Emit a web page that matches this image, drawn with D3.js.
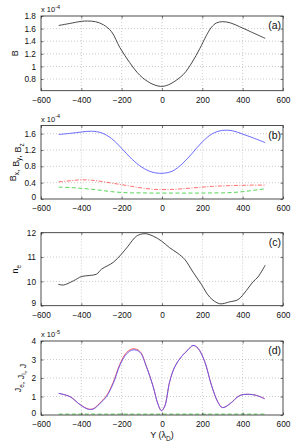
<!DOCTYPE html>
<html>
<head>
<meta charset="utf-8">
<script src="https://cdn.jsdelivr.net/npm/d3@7"></script>
<style>
  body { margin: 0; background: #fff; }
  svg { font-family: "Liberation Sans", Arial, sans-serif; }
</style>
</head>
<body>
<script>
// x ticks shared by all panels
var xTicks = [-600, -400, -200, 0, 200, 400, 600];

// (a) |B|, units of 1e-4
var bX = [-512, -460, -400, -370, -330, -290, -250, -209, -160, -110, -60, -20, 5, 40, 105, 150, 187, 220, 245, 270, 300, 340, 385, 440, 512];
var bY = [1.65, 1.68, 1.715, 1.72, 1.71, 1.66, 1.55, 1.30, 1.06, 0.86, 0.74, 0.69, 0.685, 0.72, 0.87, 1.07, 1.28, 1.49, 1.62, 1.69, 1.71, 1.69, 1.63, 1.55, 1.445];
var bTicks = [0.8, 1, 1.2, 1.4, 1.6, 1.8];

// (b) Bx, By, Bz, units of 1e-4
var bcX = [-512, -450, -400, -350, -300, -250, -200, -150, -100, -50, 0, 50, 100, 150, 200, 250, 300, 350, 400, 450, 512];
var bzY = [1.58, 1.61, 1.64, 1.66, 1.62, 1.48, 1.24, 0.98, 0.78, 0.66, 0.63, 0.68, 0.86, 1.12, 1.40, 1.60, 1.68, 1.67, 1.59, 1.50, 1.38];
var bxY = [0.42, 0.45, 0.47, 0.46, 0.43, 0.39, 0.35, 0.31, 0.27, 0.24, 0.23, 0.235, 0.25, 0.27, 0.29, 0.31, 0.32, 0.33, 0.335, 0.34, 0.34];
var byY = [0.29, 0.28, 0.26, 0.24, 0.21, 0.18, 0.16, 0.15, 0.15, 0.145, 0.145, 0.145, 0.145, 0.145, 0.145, 0.15, 0.15, 0.16, 0.18, 0.21, 0.25];
var b2Ticks = [0, 0.4, 0.8, 1.2, 1.6];

// (c) n_e
var nX = [-514, -489, -440, -399, -360, -324, -300, -242, -201, -168, -126, -85, -44, -3, 38, 79, 113, 154, 195, 237, 286, 336, 377, 418, 451, 476, 512];
var nY = [9.88, 9.85, 10.02, 10.2, 10.24, 10.3, 10.5, 10.78, 11.12, 11.45, 11.86, 11.96, 11.86, 11.66, 11.38, 11.15, 10.9, 10.38, 9.88, 9.35, 9.08, 9.16, 9.25, 9.62, 9.98, 10.18, 10.67];
var nTicks = [9, 10, 11, 12];

// (d) Je, Ji, J, units of 1e-5
var jX = [-512, -456, -407, -366, -341, -300, -275, -242, -209, -176, -143, -110, -77, -44, -19, -3, 13, 38, 63, 96, 129, 154, 179, 212, 245, 278, 300, 336, 385, 427, 468, 509];
var jY = [1.17, 0.99, 0.56, 0.31, 0.32, 0.70, 1.00, 1.70, 2.68, 3.30, 3.52, 3.40, 2.60, 1.53, 0.55, 0.23, 0.45, 1.80, 2.60, 3.15, 3.52, 3.76, 3.60, 2.88, 1.62, 0.68, 0.40, 0.60, 1.05, 1.12, 1.06, 0.88];
var jeY = [1.17, 0.99, 0.57, 0.33, 0.34, 0.74, 1.04, 1.76, 2.74, 3.37, 3.58, 3.44, 2.62, 1.54, 0.56, 0.24, 0.46, 1.80, 2.60, 3.15, 3.52, 3.76, 3.60, 2.88, 1.62, 0.68, 0.40, 0.60, 1.05, 1.12, 1.06, 0.88];
var jiY = [0.05, 0.05, 0.05, 0.05, 0.05, 0.05, 0.05, 0.05, 0.05, 0.05, 0.05, 0.05, 0.05, 0.05, 0.05, 0.05, 0.05, 0.05, 0.05, 0.05, 0.05, 0.05, 0.05, 0.05, 0.05, 0.05, 0.05, 0.05, 0.05, 0.05, 0.05, 0.05];
var jTicks = [0, 1, 2, 3, 4];

var width = 294, height = 443;
var left = 41, right = 283;

var svg = d3.select('body').append('svg').attr('width', width).attr('height', height);

var x = d3.scaleLinear().domain([-600, 600]).range([left, right]);

var panels = [
  { top: 16, bottom: 90.7, domain: [0.615, 1.8], ticks: bTicks, tag: '(a)', exp: '-4',
    ylab: [['B', '']], ylabX: 18,
    series: [{ xs: bX, ys: bY, color: '#333', dash: null }] },
  { top: 125.5, bottom: 199, domain: [0, 1.8], ticks: b2Ticks, tag: '(b)', exp: '-4',
    ylab: [['B', 'x'], [', B', 'y'], [', B', 'z']], ylabX: 16,
    series: [
      { xs: bcX, ys: bzY, color: '#5a5aff', dash: null },
      { xs: bcX, ys: bxY, color: '#ff5a5a', dash: '4,1.5,1,1.5' },
      { xs: bcX, ys: byY, color: '#44d044', dash: '4,2.5' }] },
  { top: 232.7, bottom: 305.7, domain: [9, 12], ticks: nTicks, tag: '(c)', exp: null,
    ylab: [['n', 'e']], ylabX: 18,
    series: [{ xs: nX, ys: nY, color: '#333', dash: null }] },
  { top: 341, bottom: 415, domain: [0, 4], ticks: jTicks, tag: '(d)', exp: '-5',
    ylab: [['J', 'e'], [', J', 'i'], [', J', '']], ylabX: 21,
    series: [
      { xs: jX, ys: jeY, color: '#ff4040', dash: null },
      { xs: jX, ys: jY, color: '#5a5aff', dash: null },
      { xs: jX, ys: jiY, color: '#44d044', dash: '4,2.5' }] }
];

var fmt = function (d) { return String(+d.toFixed(2)); };

panels.forEach(function (p, k) {
  var y = d3.scaleLinear().domain(p.domain).range([p.bottom, p.top]);
  var g = svg.append('g');

  // dotted grid
  g.selectAll('.gx').data(xTicks.slice(1, -1)).enter().append('line')
    .attr('x1', function (d) { return x(d); }).attr('x2', function (d) { return x(d); })
    .attr('y1', p.top).attr('y2', p.bottom)
    .attr('stroke', '#aaa').attr('stroke-width', 0.6).attr('stroke-dasharray', '1,2');
  g.selectAll('.gy').data(p.ticks.filter(function (d) { return d !== p.domain[0] && d !== p.domain[1]; })).enter().append('line')
    .attr('y1', function (d) { return y(d); }).attr('y2', function (d) { return y(d); })
    .attr('x1', left).attr('x2', right)
    .attr('stroke', '#aaa').attr('stroke-width', 0.6).attr('stroke-dasharray', '1,2');

  // series
  p.series.forEach(function (s) {
    var pts = s.xs.map(function (v, i) { return [v, s.ys[i]]; });
    var line = d3.line()
      .x(function (d) { return x(d[0]); })
      .y(function (d) { return y(d[1]); })
      .curve(d3.curveCatmullRom.alpha(0.5));
    g.append('path').attr('d', line(pts))
      .attr('fill', 'none').attr('stroke', s.color).attr('stroke-width', 0.9)
      .attr('stroke-dasharray', s.dash);
  });

  // axes, ticks pointing inward
  var xb = g.append('g').attr('transform', 'translate(0,' + p.bottom + ')')
    .call(d3.axisBottom(x).tickValues(xTicks).tickSizeInner(-2.5).tickSizeOuter(0).tickPadding(6));
  var xt = g.append('g').attr('transform', 'translate(0,' + p.top + ')')
    .call(d3.axisTop(x).tickValues(xTicks).tickSizeInner(-2.5).tickSizeOuter(0).tickFormat(''));
  var yl = g.append('g').attr('transform', 'translate(' + left + ',0)')
    .call(d3.axisLeft(y).tickValues(p.ticks).tickSizeInner(-2.5).tickSizeOuter(0).tickPadding(5).tickFormat(fmt));
  var yr = g.append('g').attr('transform', 'translate(' + right + ',0)')
    .call(d3.axisRight(y).tickValues(p.ticks).tickSizeInner(-2.5).tickSizeOuter(0).tickFormat(''));
  [xb, xt, yl, yr].forEach(function (a) {
    a.select('.domain').remove();
    a.selectAll('line').attr('stroke', '#222').attr('stroke-width', 0.6);
    a.selectAll('text').attr('font-size', 8.3).attr('fill', '#111')
      .attr('font-family', '"Liberation Sans", Arial, sans-serif');
  });
  // lift the label that sits on the bottom edge so it clears the x labels
  yl.selectAll('.tick text').filter(function (d) { return d === p.domain[0]; })
    .attr('y', -2.5);

  // box
  g.append('rect').attr('x', left).attr('y', p.top)
    .attr('width', right - left).attr('height', p.bottom - p.top)
    .attr('fill', 'none').attr('stroke', '#222').attr('stroke-width', 0.8);

  // exponent
  if (p.exp) {
    var e = g.append('text').attr('x', left).attr('y', p.top - 4)
      .attr('font-size', 7.5).attr('fill', '#111');
    e.append('tspan').text('x 10');
    e.append('tspan').attr('dy', -3.5).attr('font-size', 5.5).text(p.exp);
  }

  // panel tag
  g.append('text').attr('x', right - 2).attr('y', p.top + 13)
    .attr('text-anchor', 'end').attr('font-size', 10.5).attr('fill', '#111').text(p.tag);

  // y label
  var ym = (p.top + p.bottom) / 2;
  var t = g.append('text')
    .attr('transform', 'translate(' + p.ylabX + ',' + ym + ') rotate(-90)')
    .attr('text-anchor', 'middle').attr('font-size', 9).attr('fill', '#111');
  p.ylab.forEach(function (part) {
    t.append('tspan').text(part[0]);
    if (part[1]) {
      t.append('tspan').attr('dy', 2.5).attr('font-size', 6.5).text(part[1]);
      t.append('tspan').attr('dy', -2.5).text('');
    }
  });
});

// x label
var xl = svg.append('text').attr('x', (left + right) / 2).attr('y', 438)
  .attr('text-anchor', 'middle').attr('font-size', 9).attr('fill', '#111');
xl.append('tspan').text('Y (\u03bb');
xl.append('tspan').attr('dy', 2.5).attr('font-size', 6.5).text('D');
xl.append('tspan').attr('dy', -2.5).text(')');
</script>
</body>
</html>
